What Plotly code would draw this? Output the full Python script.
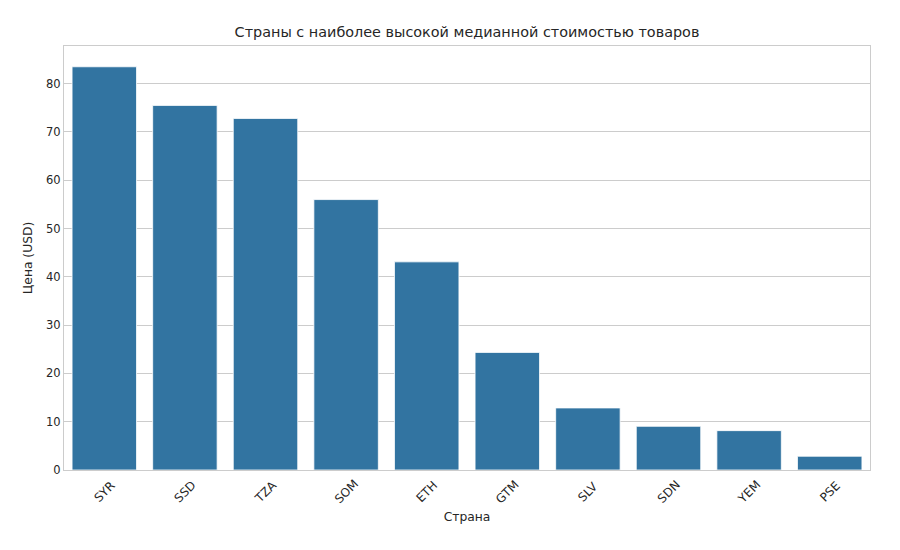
import plotly.graph_objects as go

# median price per country
countries = ["SYR", "SSD", "TZA", "SOM", "ETH", "GTM", "SLV", "SDN", "YEM", "PSE"]
median_price = [83.5, 75.5, 72.8, 56.0, 43.1, 24.35, 12.85, 9.05, 8.15, 2.85]

y_ticks = [0, 10, 20, 30, 40, 50, 60, 70, 80]

FONT = "DejaVu Sans"
TEXT = "#262626"
GRID = "#cccccc"

# the page body adds an 8px offset, so margins are compensated for it
fig = go.Figure()
fig.add_trace(
    go.Bar(
        x=countries,
        y=median_price,
        width=0.8,
        marker=dict(color="#3274a1", line=dict(color="#ffffff", width=0.8)),
        showlegend=False,
    )
)

# rotated category labels centred under each bar (matplotlib style)
for c in countries:
    fig.add_annotation(
        x=c, xref="x", y=0, yref="paper",
        yshift=-22, text=c, textangle=-45, showarrow=False,
        xanchor="center", yanchor="middle",
        font=dict(size=12, color=TEXT, family=FONT),
    )

fig.update_layout(
    width=900,
    height=550,
    margin=dict(l=56, r=38, t=38, b=88),
    paper_bgcolor="white",
    plot_bgcolor="white",
    font=dict(family=FONT, size=11.5, color=TEXT),
    title=dict(
        text="Страны с наиболее высокой медианной стоимостью товаров",
        x=0.5, xanchor="center", xref="paper",
        y=0.9564, yanchor="middle",
        font=dict(size=14.4, color=TEXT),
    ),
)

fig.update_xaxes(
    range=[-0.5, 9.5],
    showticklabels=False,
    showgrid=False,
    showline=True, linecolor=GRID, linewidth=1, mirror=True,
    ticks="",
    title=dict(text="Страна", font=dict(size=12.3, color=TEXT), standoff=42),
)
fig.update_yaxes(
    range=[0, 87.8],
    tickvals=y_ticks,
    showgrid=True, gridcolor=GRID, gridwidth=1,
    zeroline=False,
    showline=True, linecolor=GRID, linewidth=1, mirror=True,
    ticks="",
    tickfont=dict(size=11.5, color=TEXT),
    title=dict(text="Цена (USD)", font=dict(size=12.3, color=TEXT), standoff=10),
)

fig.write_html("out.html")
